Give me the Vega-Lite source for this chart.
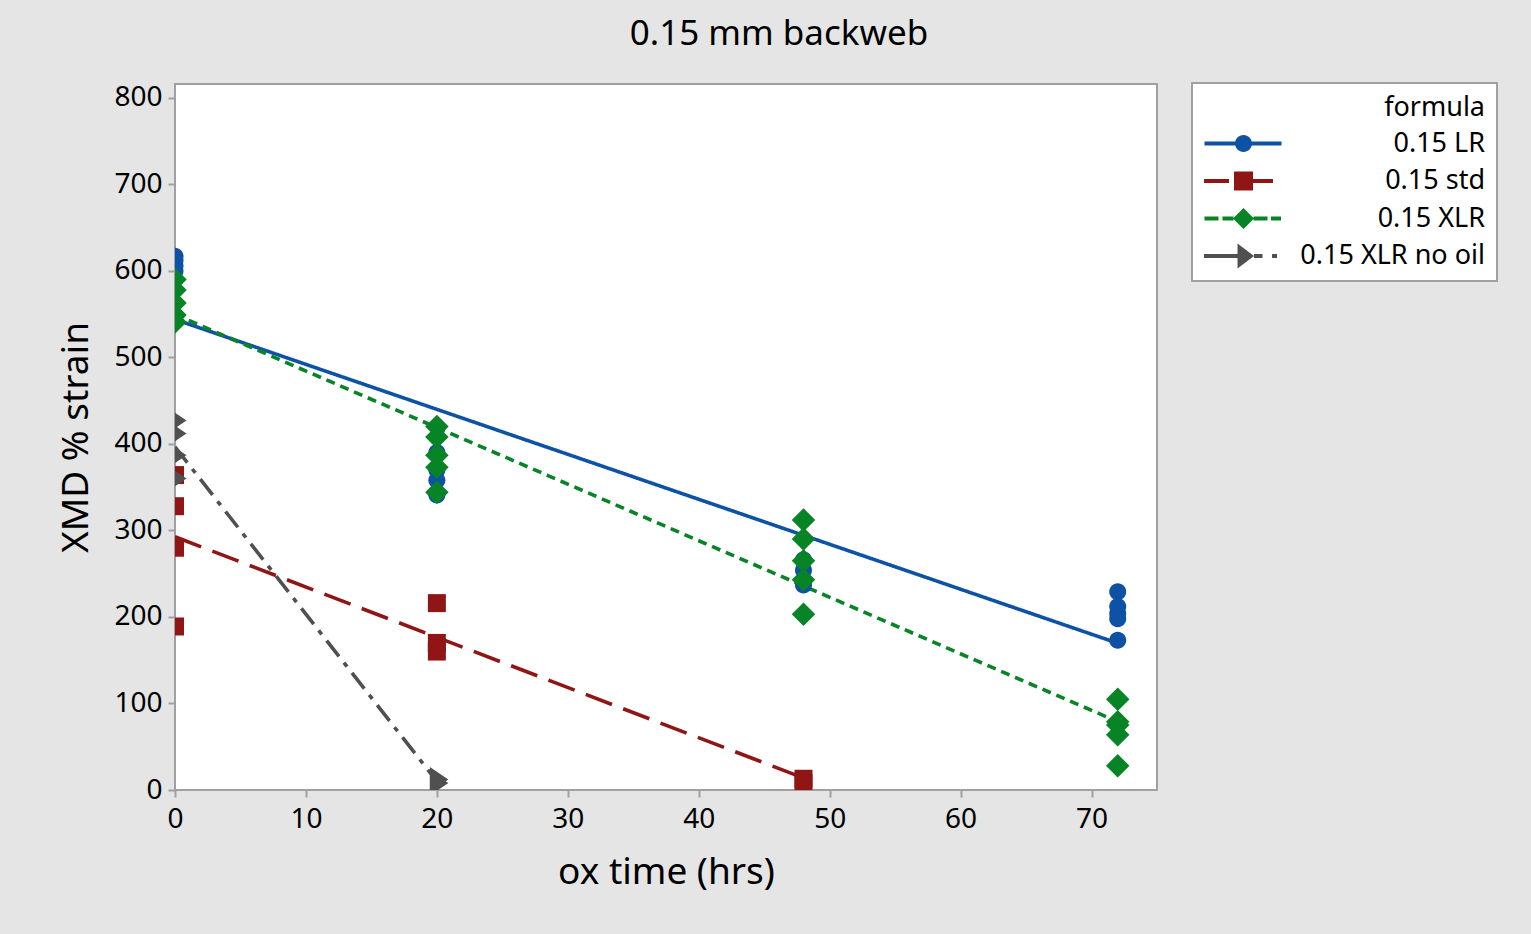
{
  "$schema": "https://vega.github.io/schema/vega-lite/v6.json",
  "autosize": {"type": "none"},
  "width": 982,
  "height": 706,
  "padding": {"left": 175, "top": 84, "right": 374, "bottom": 144},
  "background": "#E5E5E5",
  "config": {
    "view": {"fill": "white", "stroke": "#A0A0A0", "strokeWidth": 2},
    "font": "Noto Sans",
    "axis": {
      "grid": false,
      "domain": false,
      "tickColor": "#A0A0A0",
      "tickSize": 7,
      "tickWidth": 2,
      "labelFontSize": 28,
      "labelColor": "#000000",
      "titleFontSize": 37,
      "titleFontWeight": "normal",
      "titleColor": "#000000",
      "labelFont": "Noto Sans",
      "titleFont": "Noto Sans",
      "labelFlush": false
    }
  },
  "title": {
    "text": "0.15 mm backweb",
    "fontSize": 35,
    "fontWeight": "normal",
    "font": "Noto Sans",
    "color": "#000000",
    "anchor": "middle",
    "dx": 113,
    "offset": 30
  },
  "data": {
    "values": [
      {"formula": "0.15 LR", "t": 0, "strain": 617},
      {"formula": "0.15 LR", "t": 0, "strain": 612},
      {"formula": "0.15 LR", "t": 0, "strain": 606},
      {"formula": "0.15 LR", "t": 0, "strain": 600},
      {"formula": "0.15 LR", "t": 20, "strain": 390},
      {"formula": "0.15 LR", "t": 20, "strain": 370},
      {"formula": "0.15 LR", "t": 20, "strain": 358},
      {"formula": "0.15 LR", "t": 20, "strain": 341},
      {"formula": "0.15 LR", "t": 48, "strain": 266},
      {"formula": "0.15 LR", "t": 48, "strain": 254},
      {"formula": "0.15 LR", "t": 48, "strain": 237},
      {"formula": "0.15 LR", "t": 72, "strain": 229},
      {"formula": "0.15 LR", "t": 72, "strain": 212},
      {"formula": "0.15 LR", "t": 72, "strain": 204},
      {"formula": "0.15 LR", "t": 72, "strain": 198},
      {"formula": "0.15 LR", "t": 72, "strain": 173},
      {"formula": "0.15 std", "t": 0, "strain": 364},
      {"formula": "0.15 std", "t": 0, "strain": 328},
      {"formula": "0.15 std", "t": 0, "strain": 280},
      {"formula": "0.15 std", "t": 0, "strain": 189},
      {"formula": "0.15 std", "t": 20, "strain": 216},
      {"formula": "0.15 std", "t": 20, "strain": 170},
      {"formula": "0.15 std", "t": 20, "strain": 160},
      {"formula": "0.15 std", "t": 48, "strain": 13},
      {"formula": "0.15 std", "t": 48, "strain": 8},
      {"formula": "0.15 XLR", "t": 0, "strain": 590},
      {"formula": "0.15 XLR", "t": 0, "strain": 578},
      {"formula": "0.15 XLR", "t": 0, "strain": 563},
      {"formula": "0.15 XLR", "t": 0, "strain": 549},
      {"formula": "0.15 XLR", "t": 0, "strain": 541},
      {"formula": "0.15 XLR", "t": 20, "strain": 420},
      {"formula": "0.15 XLR", "t": 20, "strain": 408},
      {"formula": "0.15 XLR", "t": 20, "strain": 387},
      {"formula": "0.15 XLR", "t": 20, "strain": 373},
      {"formula": "0.15 XLR", "t": 20, "strain": 344},
      {"formula": "0.15 XLR", "t": 48, "strain": 312},
      {"formula": "0.15 XLR", "t": 48, "strain": 290},
      {"formula": "0.15 XLR", "t": 48, "strain": 265},
      {"formula": "0.15 XLR", "t": 48, "strain": 243},
      {"formula": "0.15 XLR", "t": 48, "strain": 203},
      {"formula": "0.15 XLR", "t": 72, "strain": 105},
      {"formula": "0.15 XLR", "t": 72, "strain": 79},
      {"formula": "0.15 XLR", "t": 72, "strain": 75},
      {"formula": "0.15 XLR", "t": 72, "strain": 64},
      {"formula": "0.15 XLR", "t": 72, "strain": 28},
      {"formula": "0.15 XLR no oil", "t": 0, "strain": 427},
      {"formula": "0.15 XLR no oil", "t": 0, "strain": 412},
      {"formula": "0.15 XLR no oil", "t": 0, "strain": 387},
      {"formula": "0.15 XLR no oil", "t": 0, "strain": 360},
      {"formula": "0.15 XLR no oil", "t": 20, "strain": 12},
      {"formula": "0.15 XLR no oil", "t": 20, "strain": 8}
    ]
  },
  "resolve": {"scale": {"color": "independent", "shape": "independent", "strokeDash": "independent"}},
  "layer": [
    {
      "transform": [{"regression": "strain", "on": "t", "groupby": ["formula"]}],
      "mark": {"type": "line", "strokeWidth": 3.6, "clip": true},
      "encoding": {
        "x": {"field": "t", "type": "quantitative", "scale": {"domain": [0, 75], "nice": false, "zero": false},
              "axis": {"values": [0, 10, 20, 30, 40, 50, 60, 70], "title": "ox time (hrs)", "titlePadding": 21, "labelPadding": 8}},
        "y": {"field": "strain", "type": "quantitative", "scale": {"domain": [0, 816], "nice": false},
              "axis": {"values": [0, 100, 200, 300, 400, 500, 600, 700, 800], "title": "XMD % strain", "titlePadding": 18, "labelPadding": 6}},
        "color": {"field": "formula", "type": "nominal", "legend": null,
                  "scale": {"domain": ["0.15 LR", "0.15 std", "0.15 XLR", "0.15 XLR no oil"], "range": ["#0D52A5", "#901616", "#068426", "#505050"]}},
        "strokeDash": {"field": "formula", "type": "nominal", "legend": null,
                  "scale": {"domain": ["0.15 LR", "0.15 std", "0.15 XLR", "0.15 XLR no oil"], "range": [[1, 0], [28, 12], [9, 6], [20, 8, 5, 8]]}}
      }
    },
    {
      "mark": {"type": "point", "filled": true, "opacity": 1, "strokeWidth": 0, "size": 100, "clip": true},
      "encoding": {
        "x": {"field": "t", "type": "quantitative"},
        "y": {"field": "strain", "type": "quantitative"},
        "color": {"field": "formula", "type": "nominal", "legend": null,
                  "scale": {"domain": ["0.15 LR", "0.15 std", "0.15 XLR", "0.15 XLR no oil"], "range": ["#0D52A5", "#901616", "#068426", "#505050"]}},
        "shape": {"field": "formula", "type": "nominal", "legend": null,
                  "scale": {"domain": ["0.15 LR", "0.15 std", "0.15 XLR", "0.15 XLR no oil"],
                            "range": [
                              "M1.7,0A1.7,1.7,0,1,1,-1.7,0A1.7,1.7,0,1,1,1.7,0Z",
                              "M-1.8,-1.8H1.8V1.8H-1.8Z",
                              "M0,-2.35L2.35,0L0,2.35L-2.35,0Z",
                              "M-1.4,-2.5L2.3,0L-1.4,2.5Z"
                            ]}}
      }
    },
    {
      "mark": {"type": "point", "filled": true, "opacity": 0, "strokeWidth": 0, "size": 400},
      "encoding": {
        "x": {"field": "t", "type": "quantitative"},
        "y": {"field": "strain", "type": "quantitative"},
        "color": {"field": "formula", "type": "nominal",
                  "scale": {"domain": ["0.15 LR", "0.15 std", "0.15 XLR", "0.15 XLR no oil"], "range": ["#0D52A5", "#901616", "#068426", "#505050"]},
                  "legend": {
                    "title": "formula",
                    "orient": "none",
                    "legendX": 1017,
                    "legendY": -1,
                    "fillColor": "white",
                    "strokeColor": "#A0A0A0",
                    "padding": 12,
                    "titleFontSize": 27,
                    "titleFontWeight": "normal",
                    "titleColor": "#000000",
                    "titleAnchor": "end",
                    "titlePadding": 8,
                    "labelFontSize": 27,
                    "labelColor": "#000000",
                    "labelAlign": "right",
                    "labelOffset": 228,
                    "labelLimit": 300,
                    "symbolSize": 400,
                    "symbolOpacity": 1,
                    "symbolStrokeWidth": 0,
                    "symbolOffset": 26,
                    "rowPadding": 9.5,
                    "encode": {
                      "symbols": {"update": {"opacity": {"value": 1}, "fillOpacity": {"value": 1}}},
                      "legend": {"update": {"strokeWidth": {"value": 2}}}
                    }
                  }},
        "shape": {"field": "formula", "type": "nominal",
                  "scale": {"domain": ["0.15 LR", "0.15 std", "0.15 XLR", "0.15 XLR no oil"],
                            "range": [
                              "M-3.9,-0.2H3.8V0.2H-3.9Z M0.85,0A0.85,0.85,0,1,1,-0.85,0A0.85,0.85,0,1,1,0.85,0Z",
                              "M-3.95,-0.2H-1.45V0.2H-3.95Z M-0.95,-0.95H0.95V0.95H-0.95Z M0.95,-0.2H2.95V0.2H0.95Z",
                              "M-3.9,-0.2H-2.5V0.2H-3.9Z M-2.1,-0.2H-1.0V0.2H-2.1Z M0,-1.05L1.05,0L0,1.05L-1.05,0Z M1.0,-0.2H2.4V0.2H1.0Z M2.75,-0.2H3.75V0.2H2.75Z",
                              "M-3.95,-0.2H-0.6V0.2H-3.95Z M-0.6,-1.25L1.05,0L-0.6,1.25Z M1.05,-0.2H1.9V0.2H1.05Z M2.85,-0.2H3.35V0.2H2.85Z"
                            ]}}
      }
    }
  ]
}
